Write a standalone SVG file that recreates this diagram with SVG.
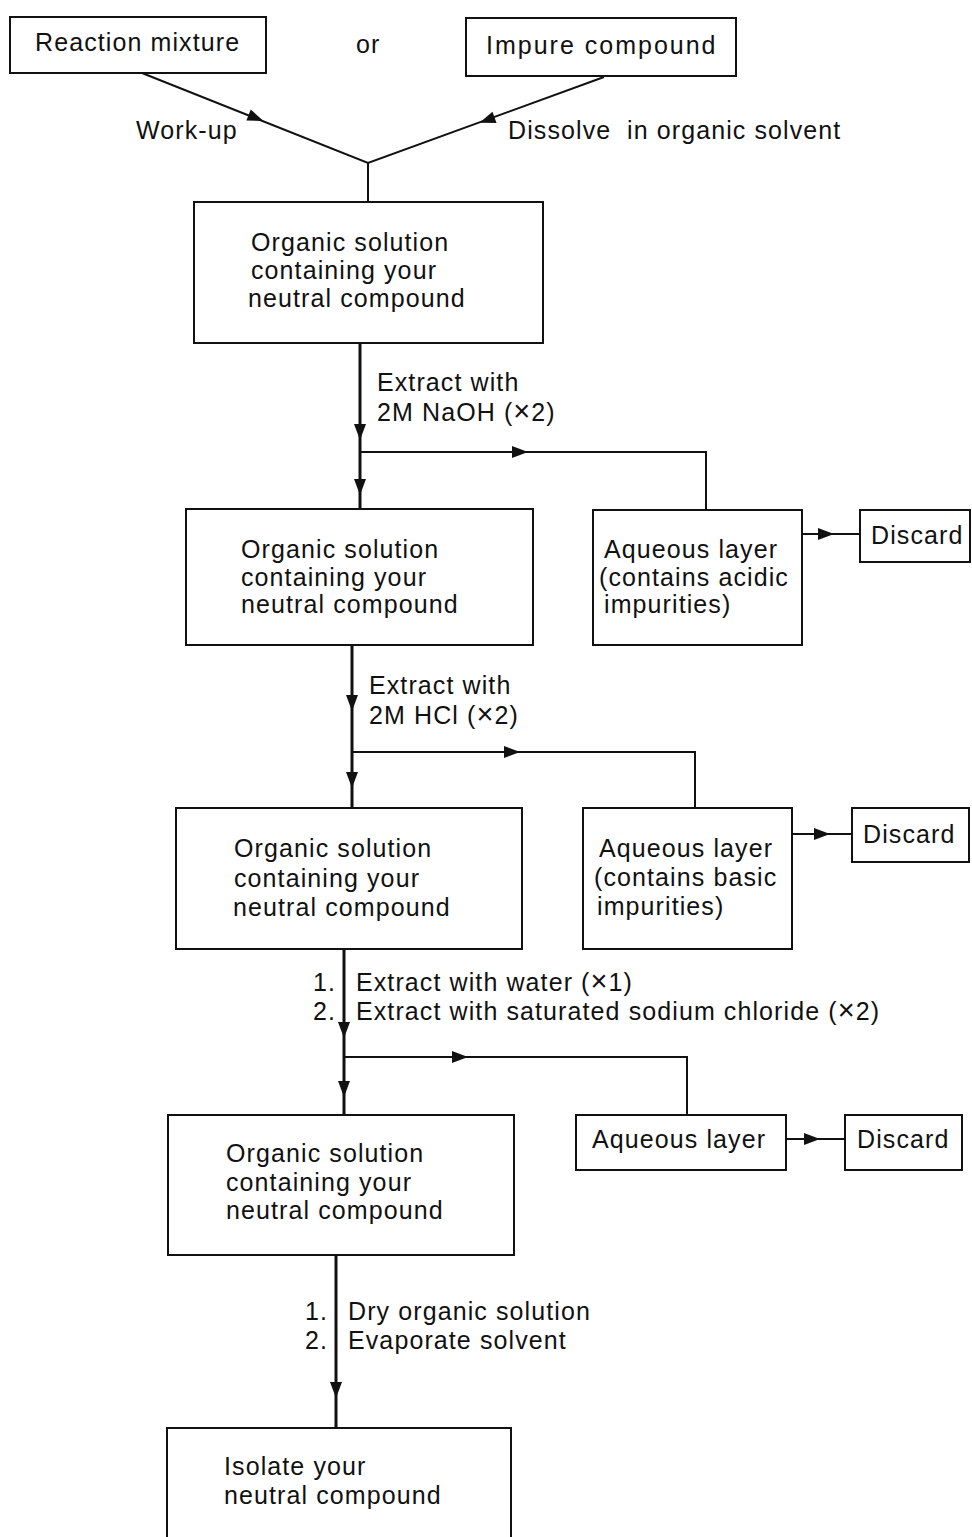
<svg xmlns="http://www.w3.org/2000/svg" width="972" height="1537" viewBox="0 0 972 1537">
<style>
.box{fill:#fff;stroke:#111;stroke-width:2}
.t{font-family:"Liberation Sans",Arial,sans-serif;font-size:25px;letter-spacing:1.1px;fill:#111}
.x{font-size:29px}
.ln{fill:none;stroke:#111;stroke-width:2}
.main{fill:none;stroke:#111;stroke-width:3}
</style>
<defs>
<path id="ah" d="M-8,-6 L8,0 L-8,6 Z" fill="#111"/>
</defs>
<rect width="972" height="1537" fill="#fff"/>
<g id="connectors">
<polyline class="ln" points="142,73 368,163 604,77"/>
<line class="ln" x1="368" y1="163" x2="368" y2="202"/>
<use href="#ah" transform="translate(256,118) rotate(21.7)"/>
<use href="#ah" transform="translate(487,120) rotate(160)"/>
<line class="main" x1="360" y1="343" x2="360" y2="509"/>
<polyline class="ln" points="360,452 706,452 706,509"/>
<use href="#ah" transform="translate(360,432) rotate(90)"/>
<use href="#ah" transform="translate(360,487) rotate(90)"/>
<use href="#ah" transform="translate(520,452)"/>
<line class="ln" x1="802" y1="534" x2="860" y2="534"/>
<use href="#ah" transform="translate(826,534)"/>
<line class="main" x1="352" y1="645" x2="352" y2="808"/>
<polyline class="ln" points="352,752 695,752 695,808"/>
<use href="#ah" transform="translate(352,703) rotate(90)"/>
<use href="#ah" transform="translate(352,780) rotate(90)"/>
<use href="#ah" transform="translate(512,752)"/>
<line class="ln" x1="792" y1="834" x2="852" y2="834"/>
<use href="#ah" transform="translate(822,834)"/>
<line class="main" x1="344" y1="949" x2="344" y2="1115"/>
<polyline class="ln" points="344,1057 687,1057 687,1115"/>
<use href="#ah" transform="translate(344,1030) rotate(90)"/>
<use href="#ah" transform="translate(344,1089) rotate(90)"/>
<use href="#ah" transform="translate(460,1057)"/>
<line class="ln" x1="786" y1="1139" x2="845" y2="1139"/>
<use href="#ah" transform="translate(812,1139)"/>
<line class="main" x1="336" y1="1255" x2="336" y2="1428"/>
<use href="#ah" transform="translate(336,1390) rotate(90)"/>
</g>
<g id="labels">
<text class="t" x="136" y="139">Work-up</text>
<text class="t" x="508" y="139">Dissolve</text>
<text class="t" x="627" y="139">in organic solvent</text>
<text class="t" x="356" y="53">or</text>
<text class="t" x="377" y="391">Extract with</text>
<text class="t" x="377" y="421">2M NaOH (<tspan class="x">×</tspan>2)</text>
<text class="t" x="369" y="694">Extract with</text>
<text class="t" x="369" y="724">2M HCl (<tspan class="x">×</tspan>2)</text>
<text class="t" x="313" y="991">1.</text>
<text class="t" x="313" y="1020">2.</text>
<text class="t" x="356" y="991">Extract with water (<tspan class="x">×</tspan>1)</text>
<text class="t" x="356" y="1020">Extract with saturated sodium chloride (<tspan class="x">×</tspan>2)</text>
<text class="t" x="305" y="1320">1.</text>
<text class="t" x="305" y="1349">2.</text>
<text class="t" x="348" y="1320">Dry organic solution</text>
<text class="t" x="348" y="1349">Evaporate solvent</text>
</g>
<g id="reaction-mixture">
<rect class="box" x="10" y="17" width="256" height="56"/>
<text class="t" x="35" y="51">Reaction mixture</text>
</g>
<g id="impure-compound">
<rect class="box" x="466" y="18" width="270" height="58"/>
<text class="t" x="486" y="54" style="letter-spacing:2px">Impure compound</text>
</g>
<g id="organic-1">
<rect class="box" x="194" y="202" width="349" height="141"/>
<text class="t" x="251" y="251">Organic solution</text>
<text class="t" x="251" y="279">containing your</text>
<text class="t" x="248" y="307">neutral compound</text>
</g>
<g id="organic-2">
<rect class="box" x="186" y="509" width="347" height="136"/>
<text class="t" x="241" y="558">Organic solution</text>
<text class="t" x="241" y="586">containing your</text>
<text class="t" x="241" y="613">neutral compound</text>
</g>
<g id="aqueous-1">
<rect class="box" x="593" y="510" width="209" height="135"/>
<text class="t" x="604" y="558">Aqueous layer</text>
<text class="t" x="599" y="586">(contains acidic</text>
<text class="t" x="604" y="613">impurities)</text>
</g>
<g id="discard-1">
<rect class="box" x="860" y="510" width="110" height="52"/>
<text class="t" x="871" y="544">Discard</text>
</g>
<g id="organic-3">
<rect class="box" x="176" y="808" width="346" height="141"/>
<text class="t" x="234" y="857">Organic solution</text>
<text class="t" x="234" y="887">containing your</text>
<text class="t" x="233" y="916">neutral compound</text>
</g>
<g id="aqueous-2">
<rect class="box" x="583" y="808" width="209" height="141"/>
<text class="t" x="599" y="857">Aqueous layer</text>
<text class="t" x="594" y="886">(contains basic</text>
<text class="t" x="597" y="915">impurities)</text>
</g>
<g id="discard-2">
<rect class="box" x="852" y="808" width="117" height="54"/>
<text class="t" x="863" y="843">Discard</text>
</g>
<g id="organic-4">
<rect class="box" x="168" y="1115" width="346" height="140"/>
<text class="t" x="226" y="1162">Organic solution</text>
<text class="t" x="226" y="1191">containing your</text>
<text class="t" x="226" y="1219">neutral compound</text>
</g>
<g id="aqueous-3">
<rect class="box" x="576" y="1115" width="210" height="55"/>
<text class="t" x="592" y="1148">Aqueous layer</text>
</g>
<g id="discard-3">
<rect class="box" x="845" y="1115" width="117" height="55"/>
<text class="t" x="857" y="1148">Discard</text>
</g>
<g id="isolate">
<rect class="box" x="167" y="1428" width="344" height="120"/>
<text class="t" x="224" y="1475">Isolate your</text>
<text class="t" x="224" y="1504">neutral compound</text>
</g>
</svg>
